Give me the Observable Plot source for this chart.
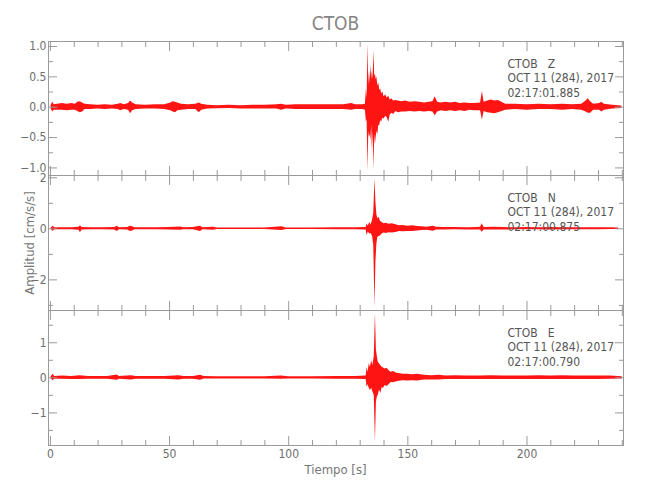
<!DOCTYPE html>
<html><head><meta charset="utf-8">
<script src="https://cdn.jsdelivr.net/npm/d3@7"></script>
<script src="https://cdn.jsdelivr.net/npm/@observablehq/plot@0.6"></script>
<style>
body{margin:0;background:#fff;}
#chart{position:relative;width:650px;height:500px;font-family:"DejaVu Sans Condensed","DejaVu Sans",sans-serif;}
#chart svg{position:absolute;left:0;}
.lbl{position:absolute;color:#777;white-space:nowrap;}
</style></head><body><div id="chart"></div>
<script>
// ---- text ----
const stationName = "CTOB";
const components = ["Z", "N", "E"];
const dateLabel = "OCT 11 (284), 2017";
const startTimes = ["02:17:01.885", "02:17:00.875", "02:17:00.790"];
const yTitle = "Amplitud [cm/s/s]";
const xTitle = "Tiempo [s]";

// ---- x axis ----
const xDomain = [-0.8, 240.5];
const xTicksMajor = [0, 50, 100, 150, 200];
const xTicksMinor = [10, 20, 30, 40, 60, 70, 80, 90, 110, 120, 130, 140, 160, 170, 180, 190, 210, 220, 230, 240];

// ---- y axes ----
const zDomain = [-1.125, 1.082];
const zTicksMajor = [-1, -0.5, 0, 0.5, 1];
const zTicksMinor = [-0.75, -0.25, 0.25, 0.75];
const nDomain = [-3.2, 2.09];
const nTicksMajor = [-2, 0, 2];
const nTicksMinor = [-3, -1, 1];
const eDomain = [-1.93, 1.92];
const eTicksMajor = [-1, 0, 1];
const eTicksMinor = [-1.5, -0.5, 0.5, 1.5];

// ---- Z component envelope (time s, upper, lower; cm/s/s) ----
const zTime = [0.3,1.0,1.6,3,5,7,9,10.5,11.5,12.5,13.5,14.5,17,20,23,26,28.5,29.5,31,32.8,33.6,34.5,36,40,44,48,50.5,51.5,52.5,53.5,55,58,61,62.5,63.5,66,70,75,80,85,90,95,97,99,103,107,111,115,119,123,126.5,128,131,132.2,
 132.6,132.9,133.3,133.6,133.9,134.2,134.5,134.8,135.1,135.4,135.8,136.1,136.4,136.7,137.0,137.4,137.8,138.2,138.6,139.0,139.5,140,140.7,141.3,142,142.6,143.3,144,145,146,147.5,149,151,153,155,157,159,160.5,161.5,162.5,164,166,168,170,172,174,176,178,180.5,181.3,182,183.5,185,186.5,188,189.5,191,195,200,205,210,215,219,223,224.8,225.7,226.7,228,230.5,231.4,232.5,236,239.8];
const zHigh = [0.03,0.08,0.04,0.05,0.06,0.05,0.06,0.05,0.08,0.09,0.07,0.05,0.04,0.03,0.04,0.03,0.05,0.06,0.04,0.06,0.10,0.07,0.04,0.03,0.04,0.04,0.07,0.09,0.08,0.07,0.05,0.04,0.05,0.07,0.05,0.03,0.025,0.03,0.025,0.03,0.03,0.04,0.05,0.03,0.04,0.04,0.04,0.04,0.04,0.04,0.06,0.04,0.04,0.05,
 0.30,0.15,1.04,0.35,0.60,0.40,0.70,0.45,0.60,0.45,0.93,0.50,0.55,0.45,0.50,0.35,0.40,0.28,0.30,0.22,0.25,0.17,0.20,0.15,0.18,0.12,0.14,0.10,0.11,0.10,0.09,0.10,0.08,0.09,0.08,0.07,0.08,0.09,0.17,0.08,0.07,0.08,0.07,0.08,0.06,0.07,0.06,0.06,0.07,0.26,0.08,0.10,0.12,0.10,0.11,0.08,0.05,0.05,0.04,0.05,0.04,0.05,0.04,0.05,0.10,0.14,0.09,0.05,0.06,0.08,0.05,0.03,0.02];
const zLow = [-0.03,-0.08,-0.05,-0.05,-0.05,-0.06,-0.05,-0.05,-0.07,-0.09,-0.08,-0.04,-0.04,-0.03,-0.04,-0.03,-0.04,-0.06,-0.04,-0.05,-0.11,-0.06,-0.04,-0.03,-0.03,-0.04,-0.06,-0.08,-0.09,-0.06,-0.05,-0.04,-0.04,-0.09,-0.05,-0.03,-0.025,-0.02,-0.03,-0.03,-0.03,-0.03,-0.05,-0.03,-0.04,-0.04,-0.04,-0.04,-0.04,-0.04,-0.05,-0.04,-0.04,-0.05,
 -0.25,-0.20,-1.06,-0.40,-0.50,-0.45,-0.55,-0.30,-0.70,-0.40,-1.02,-0.45,-0.62,-0.50,-0.40,-0.45,-0.30,-0.30,-0.22,-0.25,-0.18,-0.20,-0.15,-0.17,-0.25,-0.13,-0.10,-0.12,-0.07,-0.09,-0.08,-0.08,-0.07,-0.08,-0.07,-0.08,-0.07,-0.08,-0.14,-0.08,-0.06,-0.07,-0.06,-0.07,-0.06,-0.07,-0.05,-0.06,-0.06,-0.21,-0.07,-0.09,-0.10,-0.11,-0.09,-0.07,-0.05,-0.04,-0.05,-0.04,-0.04,-0.05,-0.04,-0.05,-0.08,-0.10,-0.10,-0.05,-0.05,-0.08,-0.05,-0.03,-0.02];

// ---- N component envelope ----
const nTime = [0.3,1.2,1.8,5,9,12,12.6,13.3,17,22,27,28,29,32.5,33.5,34.5,35.5,40,45,50,54.6,56,60,63,64,68.5,70,80,90,97.2,99,110,120,128,132.5,
 132.9,133.4,134,134.6,135.2,135.7,136.2,136.6,137.0,137.4,137.9,138.5,139.2,140,141,142,143.5,145,146.5,148,150,152,154,156,158,160.7,162,165,170,175,179,180.5,181.2,182,186,190,195,200,205,210,215,220,225,230,235,238.5];
const nHigh = [0.03,0.10,0.04,0.04,0.04,0.06,0.12,0.05,0.04,0.04,0.05,0.10,0.04,0.05,0.10,0.08,0.04,0.04,0.04,0.05,0.07,0.04,0.05,0.10,0.04,0.06,0.03,0.03,0.03,0.08,0.03,0.03,0.04,0.04,0.05,
 0.20,0.10,0.25,0.15,0.35,0.60,1.96,1.04,0.55,0.40,0.45,0.30,0.25,0.20,0.22,0.18,0.20,0.16,0.12,0.13,0.10,0.12,0.09,0.08,0.06,0.10,0.06,0.05,0.05,0.04,0.05,0.06,0.20,0.05,0.06,0.05,0.04,0.05,0.04,0.05,0.04,0.04,0.04,0.04,0.04,0.03];
const nLow = [-0.03,-0.10,-0.04,-0.04,-0.04,-0.06,-0.15,-0.05,-0.04,-0.04,-0.05,-0.10,-0.04,-0.05,-0.10,-0.08,-0.04,-0.04,-0.04,-0.05,-0.06,-0.04,-0.04,-0.10,-0.04,-0.06,-0.03,-0.03,-0.03,-0.07,-0.03,-0.03,-0.04,-0.04,-0.05,
 -0.26,-0.12,-0.20,-0.18,-0.30,-0.65,-3.07,-1.30,-0.60,-0.33,-0.30,-0.28,-0.20,-0.16,-0.18,-0.15,-0.16,-0.14,-0.10,-0.11,-0.10,-0.10,-0.08,-0.07,-0.06,-0.09,-0.05,-0.05,-0.04,-0.05,-0.05,-0.05,-0.13,-0.05,-0.05,-0.05,-0.04,-0.04,-0.04,-0.05,-0.04,-0.04,-0.04,-0.04,-0.03,-0.03];

// ---- E component envelope ----
const eTime = [0.3,1.2,1.8,5,9,12.5,16,20,24,28,29,34,36,42,48,54,56,60,63,64.5,70,80,90,97,100,110,120,128,132.5,
 132.9,133.3,133.8,134.3,134.8,135.3,135.9,136.4,136.8,137.2,137.6,138.1,138.6,139.2,139.8,140.5,141.3,142.1,143,144,145,146.3,148,150,152,154,157,160,163,166,170,175,180,185,190,195,200,205,210,215,220,225,230,235,240];
const eHigh = [0.03,0.10,0.04,0.05,0.04,0.06,0.04,0.04,0.04,0.08,0.04,0.06,0.04,0.04,0.04,0.06,0.04,0.04,0.07,0.04,0.03,0.03,0.03,0.05,0.03,0.03,0.04,0.04,0.05,
 0.30,0.15,0.40,0.30,0.49,0.35,0.60,1.83,0.80,0.60,0.44,0.40,0.35,0.30,0.28,0.25,0.27,0.20,0.16,0.18,0.14,0.12,0.10,0.10,0.09,0.10,0.07,0.06,0.07,0.05,0.06,0.05,0.05,0.06,0.05,0.05,0.05,0.06,0.05,0.06,0.05,0.05,0.05,0.05,0.03];
const eLow = [-0.03,-0.08,-0.04,-0.04,-0.05,-0.05,-0.04,-0.04,-0.04,-0.07,-0.04,-0.06,-0.04,-0.04,-0.04,-0.06,-0.04,-0.04,-0.07,-0.03,-0.03,-0.03,-0.03,-0.04,-0.03,-0.03,-0.04,-0.04,-0.05,
 -0.27,-0.20,-0.30,-0.36,-0.30,-0.40,-0.50,-1.84,-0.70,-0.55,-0.50,-0.35,-0.45,-0.28,-0.30,-0.22,-0.25,-0.20,-0.13,-0.14,-0.12,-0.10,-0.08,-0.09,-0.08,-0.09,-0.06,-0.06,-0.06,-0.05,-0.05,-0.05,-0.05,-0.05,-0.05,-0.05,-0.05,-0.05,-0.05,-0.05,-0.05,-0.05,-0.05,-0.04,-0.03];

// ---- styling ----
const traceColor = "#ff0000";
const axisColor = "#9a9a9a";
const labelColor = "#6e6e6e";
const noteColor = "#555555";
const fontFam = '"DejaVu Sans Condensed","DejaVu Sans",sans-serif';
const minus = s => s.replace("-", "\u2212");

const chart = document.getElementById("chart");

function panel({time, high, low, domain, major, minor, fmt, comp, start, frameTop, frameH, mb, showX}) {
  const data = time.map((t, i) => ({t, hi: high[i], lo: low[i]}));
  const mt = 0;
  const tickAxes = [];
  for (const a of ["left", "right"]) {
    tickAxes.push(Plot.axisY(major, {anchor: a, tickSize: -9, stroke: axisColor, fill: "none", label: null}));
    tickAxes.push(Plot.axisY(minor, {anchor: a, tickSize: -5, stroke: axisColor, fill: "none", label: null}));
  }
  for (const a of ["top", "bottom"]) {
    tickAxes.push(Plot.axisX(xTicksMajor, {anchor: a, tickSize: -9, stroke: axisColor, fill: "none", label: null}));
    tickAxes.push(Plot.axisX(xTicksMinor, {anchor: a, tickSize: -5, stroke: axisColor, fill: "none", label: null}));
  }
  const svg = Plot.plot({
    width: 650, height: mt + frameH + mb,
    marginLeft: 48, marginRight: 27, marginTop: mt, marginBottom: mb,
    style: {background: "transparent", overflow: "visible", fontFamily: fontFam, fontSize: "12px"},
    x: {domain: xDomain},
    y: {domain: domain},
    marks: [
      Plot.areaY(data, {x: "t", y1: "lo", y2: "hi", fill: traceColor, fillOpacity: 0.92, curve: "linear"}),
      Plot.frame({stroke: axisColor}),
      ...tickAxes,
      Plot.axisY(major, {anchor: "left", tickSize: 0, tickPadding: 2, fill: labelColor, label: null, tickFormat: fmt}),
      showX ? Plot.axisX(xTicksMajor, {anchor: "bottom", tickSize: 0, tickPadding: 4, fill: labelColor, label: null, tickFormat: d => String(d)}) : null,
      Plot.text([`${stationName}   ${comp}\n${dateLabel}\n${start}`], {
        frameAnchor: "top-right", textAnchor: "start", lineAnchor: "top",
        dx: -116, dy: 16, lineHeight: 1.2, fill: noteColor, fontSize: 12
      })
    ]
  });
  svg.style.top = (frameTop - mt) + "px";
  chart.appendChild(svg);
}

panel({time: zTime, high: zHigh, low: zLow, domain: zDomain, major: zTicksMajor, minor: zTicksMinor,
  fmt: d => minus(d3.format(".1f")(d)), comp: components[0], start: startTimes[0], frameTop: 41, frameH: 134, mb: 0});
panel({time: nTime, high: nHigh, low: nLow, domain: nDomain, major: nTicksMajor, minor: nTicksMinor,
  fmt: d => minus(String(d)), comp: components[1], start: startTimes[1], frameTop: 175, frameH: 135, mb: 0});
panel({time: eTime, high: eHigh, low: eLow, domain: eDomain, major: eTicksMajor, minor: eTicksMinor,
  fmt: d => minus(String(d)), comp: components[2], start: startTimes[2], frameTop: 310, frameH: 135, mb: 40, showX: true});

// title and axis titles
const title = document.createElement("div");
title.className = "lbl";
title.textContent = stationName;
Object.assign(title.style, {left: "48px", width: "575px", top: "12px", textAlign: "center", fontSize: "19px", color: "#858585"});
chart.appendChild(title);

const xl = document.createElement("div");
xl.className = "lbl";
xl.textContent = xTitle;
Object.assign(xl.style, {left: "48px", width: "575px", top: "462px", textAlign: "center", fontSize: "13px"});
chart.appendChild(xl);

const yl = document.createElement("div");
yl.className = "lbl";
yl.textContent = yTitle;
Object.assign(yl.style, {left: "29px", top: "243px", fontSize: "13px", transform: "translate(-50%,-50%) rotate(-90deg)"});
chart.appendChild(yl);
</script></body></html>
